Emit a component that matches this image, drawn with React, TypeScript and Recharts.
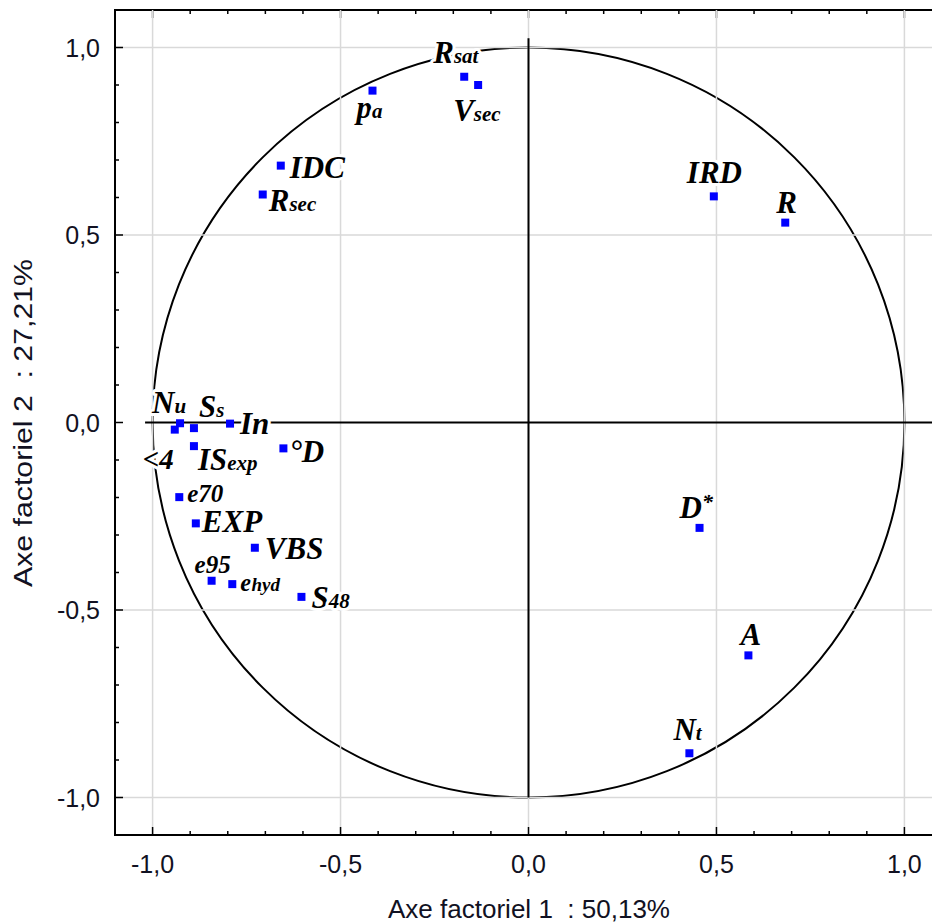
import React from "react";
import {
  ScatterChart,
  Scatter,
  XAxis,
  YAxis,
  ReferenceLine,
  ReferenceArea,
} from "recharts";

// Variable loadings on the two first factorial axes
const VARIABLES = [
  "pa", "Rsat", "Vsec", "IDC", "Rsec", "IRD", "R", "Nu", "<4", "Ss", "In",
  "ISexp", "°D", "e70", "EXP", "VBS", "e95", "ehyd", "S48", "D*", "A", "Nt",
];
const FACTOR1 = [
  -0.415, -0.171, -0.134, -0.659, -0.707, 0.493, 0.683, -0.927, -0.941, -0.89,
  -0.794, -0.89, -0.652, -0.929, -0.885, -0.728, -0.843, -0.788, -0.604, 0.455,
  0.585, 0.428,
];
const FACTOR2 = [
  0.885, 0.922, 0.9, 0.685, 0.608, 0.603, 0.533, -0.002, -0.019, -0.015,
  -0.003, -0.063, -0.069, -0.199, -0.269, -0.334, -0.422, -0.431, -0.465,
  -0.281, -0.621, -0.882,
];

const AXIS_TICKS = [
  -1.0, -0.9, -0.8, -0.7, -0.6, -0.5, -0.4, -0.3, -0.2, -0.1, 0.0, 0.1, 0.2,
  0.3, 0.4, 0.5, 0.6, 0.7, 0.8, 0.9, 1.0,
];
const GRID_X = [-1.0, -0.5, 0.0, 0.5, 1.0];
const GRID_Y = [-1.0, -0.5, 0.5, 1.0];
const DOMAIN_MAX = 1.1;

const X_LABEL = "Axe factoriel 1\u00a0\u00a0: 50,13%";
const Y_LABEL = "Axe factoriel 2\u00a0\u00a0: 27,21%";

const COLORS = {
  point: "#0000ff",
  grid: "#d9d9d9",
  axis: "#000000",
  text: "#111122",
};

const SANS = "'Liberation Sans', Arial, sans-serif";
const SERIF = "'Liberation Serif', 'Times New Roman', serif";

// label text parts and placement relative to the point (px)
type LabelStyle = {
  main: string;
  sub?: string;
  sup?: string;
  dx: number;
  dy: number;
  size?: number;
  subSize?: number;
};

const LABEL_STYLES: Record<string, LabelStyle> = {
  pa: { main: "p", sub: "a", dx: -16, dy: 27 },
  Rsat: { main: "R", sub: "sat", dx: -31, dy: -14 },
  Vsec: { main: "V", sub: "sec", dx: -25, dy: 36 },
  IDC: { main: "IDC", dx: 9, dy: 12 },
  Rsec: { main: "R", sub: "sec", dx: 6, dy: 16 },
  IRD: { main: "IRD", dx: -27, dy: -13 },
  R: { main: "R", dx: -9, dy: -10 },
  Nu: { main: "N", sub: "u", dx: -28, dy: -10 },
  "<4": { main: "<4", dx: -32, dy: 39, size: 29 },
  Ss: { main: "S", sub: "s", dx: 5, dy: -11 },
  In: { main: "In", dx: 10, dy: 10 },
  ISexp: { main: "IS", sub: "exp", dx: 4, dy: 24 },
  "°D": { main: "°D", dx: 6, dy: 14 },
  e70: { main: "e70", dx: 8, dy: 5, size: 25 },
  EXP: { main: "EXP", dx: 6, dy: 9 },
  VBS: { main: "VBS", dx: 10, dy: 11 },
  e95: { main: "e95", dx: -17, dy: -8, size: 25 },
  ehyd: { main: "e", sub: "hyd", dx: 8, dy: 7, size: 25, subSize: 19 },
  S48: { main: "S", sub: "48", dx: 10, dy: 11 },
  "D*": { main: "D", sup: "*", dx: -20, dy: -10 },
  A: { main: "A", dx: -8, dy: -10 },
  Nt: { main: "N", sub: "t", dx: -16, dy: -13 },
};

const points = VARIABLES.map((name, i) => ({
  name,
  x: FACTOR1[i],
  y: FACTOR2[i],
}));

const isMajor = (v: number) => Math.abs(v * 2 - Math.round(v * 2)) < 1e-6;
const fmt = (v: number) => v.toFixed(1).replace(".", ",");

const BottomTick = (props: any) => {
  const { x, y, payload } = props;
  const major = isMajor(payload.value);
  return (
    <g>
      <line x1={x} x2={x} y1={y} y2={y - (major ? 8 : 4)} stroke={COLORS.axis} strokeWidth={1.5} />
      {major && (
        <text x={x} y={y + 38} textAnchor="middle" fontFamily={SANS} fontSize={25} fill={COLORS.text}>
          {fmt(payload.value)}
        </text>
      )}
    </g>
  );
};

const LeftTick = (props: any) => {
  const { x, y, payload } = props;
  const major = isMajor(payload.value);
  return (
    <g>
      <line x1={x} x2={x + (major ? 8 : 4)} y1={y} y2={y} stroke={COLORS.axis} strokeWidth={1.5} />
      {major && (
        <text x={x - 15} y={y} dy="0.36em" textAnchor="end" fontFamily={SANS} fontSize={25} fill={COLORS.text}>
          {fmt(payload.value)}
        </text>
      )}
    </g>
  );
};

const UnitCircle = (props: any) => {
  const { x, y, width, height } = props;
  return (
    <ellipse
      cx={x + width / 2}
      cy={y + height / 2}
      rx={width / 2}
      ry={height / 2}
      fill="none"
      stroke={COLORS.axis}
      strokeWidth={2}
    />
  );
};

// frame of the plot, with inward ticks along its top edge
const Frame = (props: any) => {
  const { x, y, width, height } = props;
  const toPx = (v: number) => x + ((v + DOMAIN_MAX) / (2 * DOMAIN_MAX)) * width;
  return (
    <g>
      <rect x={x} y={y} width={width} height={height} fill="none" stroke={COLORS.axis} strokeWidth={2} />
      {AXIS_TICKS.map((v) => (
        <line
          key={v}
          x1={toPx(v)}
          x2={toPx(v)}
          y1={y}
          y2={y + (isMajor(v) ? 8 : 4)}
          stroke={COLORS.axis}
          strokeWidth={1.5}
        />
      ))}
    </g>
  );
};

const PointLabel = (props: any) => {
  const { cx, cy, payload } = props;
  const s = LABEL_STYLES[payload.name];
  if (!s) return null;
  const size = s.size ?? 31;
  const subSize = s.subSize ?? 21;
  return (
    <text
      x={cx + s.dx}
      y={cy + s.dy}
      fontFamily={SERIF}
      fontWeight="bold"
      fontStyle="italic"
      fontSize={size}
      fill="#000"
      stroke="#fff"
      strokeWidth={6}
      strokeLinejoin="round"
      paintOrder="stroke"
    >
      <tspan>{s.main}</tspan>
      {s.sub && <tspan fontSize={subSize}>{s.sub}</tspan>}
      {s.sup && (
        <tspan fontSize={22} dy={-9}>
          {s.sup}
        </tspan>
      )}
    </text>
  );
};

const PointMarker = (props: any) => {
  const { cx, cy } = props;
  return <rect x={cx - 4} y={cy - 4} width={8} height={8} fill={COLORS.point} />;
};

export default function App() {
  return (
    <div
      style={{
        position: "absolute",
        left: 0,
        top: 0,
        width: 932,
        height: 924,
        overflow: "hidden",
        background: "#fff",
      }}
    >
      <ScatterChart width={960} height={924} margin={{ top: 10, right: 18, bottom: 0, left: 0 }}>
        <XAxis
          type="number"
          dataKey="x"
          domain={[-DOMAIN_MAX, DOMAIN_MAX]}
          ticks={AXIS_TICKS}
          interval={0}
          allowDataOverflow
          height={89}
          tickSize={0}
          tickMargin={0}
          tick={<BottomTick />}
          axisLine={{ stroke: COLORS.axis, strokeWidth: 2 }}
          tickLine={false}
        />
        <YAxis
          type="number"
          dataKey="y"
          domain={[-DOMAIN_MAX, DOMAIN_MAX]}
          ticks={AXIS_TICKS}
          interval={0}
          allowDataOverflow
          width={115}
          tickSize={0}
          tickMargin={0}
          tick={<LeftTick />}
          axisLine={{ stroke: COLORS.axis, strokeWidth: 2 }}
          tickLine={false}
        />

        {/* light grid every 0.5 */}
        {GRID_X.map((v) => (
          <ReferenceLine key={`gx${v}`} x={v} stroke={COLORS.grid} strokeWidth={1.5} />
        ))}
        {GRID_Y.map((v) => (
          <ReferenceLine key={`gy${v}`} y={v} stroke={COLORS.grid} strokeWidth={1.5} />
        ))}

        {/* plot frame */}
        <ReferenceArea
          x1={-DOMAIN_MAX}
          x2={DOMAIN_MAX}
          y1={-DOMAIN_MAX}
          y2={DOMAIN_MAX}
          ifOverflow="visible"
          shape={<Frame />}
        />

        {/* correlation circle */}
        <ReferenceArea x1={-1} x2={1} y1={-1} y2={1} shape={<UnitCircle />} />

        {/* factorial axes */}
        <ReferenceLine
          segment={[
            { x: -1.02, y: 0 },
            { x: DOMAIN_MAX, y: 0 },
          ]}
          stroke={COLORS.axis}
          strokeWidth={2}
        />
        <ReferenceLine
          segment={[
            { x: 0, y: 1.025 },
            { x: 0, y: -1 },
          ]}
          stroke={COLORS.axis}
          strokeWidth={2}
        />

        <Scatter data={points} shape={<PointLabel />} isAnimationActive={false} />
        <Scatter data={points} shape={<PointMarker />} isAnimationActive={false} />
      </ScatterChart>

      <svg
        width={932}
        height={924}
        style={{ position: "absolute", left: 0, top: 0, pointerEvents: "none" }}
      >
        <text
          x={529}
          y={918}
          textAnchor="middle"
          fontFamily={SANS}
          fontSize={26}
          fill={COLORS.text}
          textLength={282}
          lengthAdjust="spacingAndGlyphs"
        >
          {X_LABEL}
        </text>
        <text
          x={32}
          y={423}
          textAnchor="middle"
          fontFamily={SANS}
          fontSize={26}
          fill={COLORS.text}
          textLength={328}
          lengthAdjust="spacingAndGlyphs"
          transform="rotate(-90, 32, 423)"
        >
          {Y_LABEL}
        </text>
      </svg>
    </div>
  );
}
